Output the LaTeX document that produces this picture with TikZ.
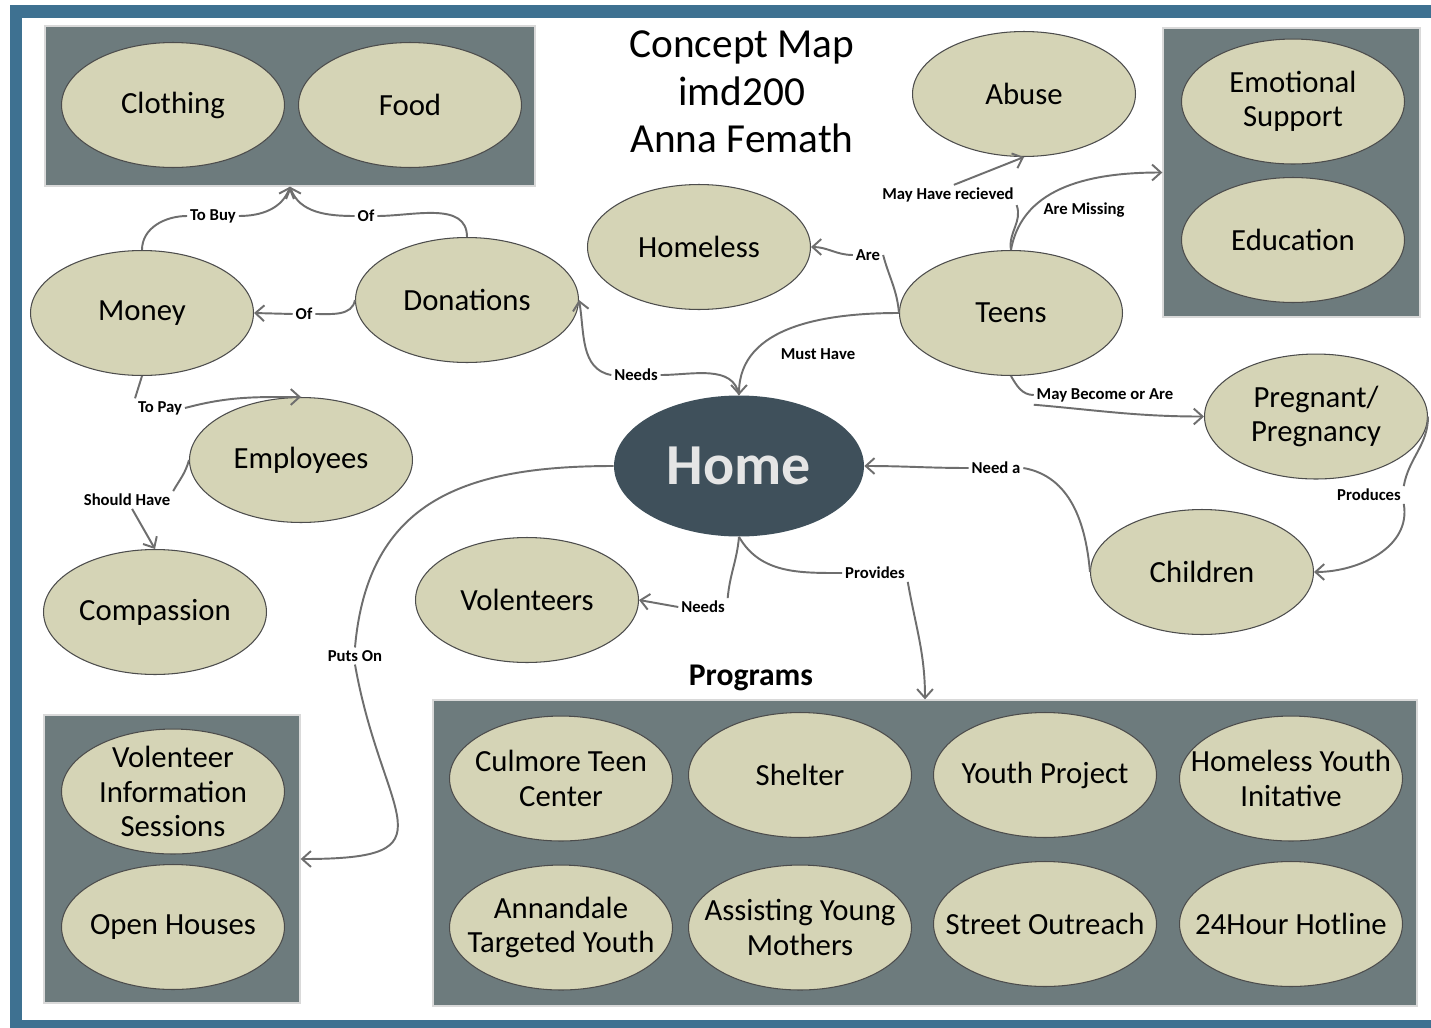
\documentclass[tikz,border=0pt]{standalone}
\usepackage{fontspec}
\setmainfont{Carlito}
\usepackage{tikz}
\usetikzlibrary{shapes.geometric,arrows.meta}

\definecolor{framec}{HTML}{3E7191}
\definecolor{boxc}{HTML}{6D7B7D}
\definecolor{bubc}{HTML}{D5D4B6}
\definecolor{homec}{HTML}{3F505B}
\definecolor{linkc}{HTML}{6E6E6E}

\tikzset{
  bub/.style={ellipse, draw=black!70, line width=0.6pt, fill=bubc,
    minimum width=4.46cm, minimum height=2.5cm, inner sep=-3em,
    align=center, font=\fontsize{17.5}{19.5}\selectfont},
  bubtwo/.style={bub, yshift=-2pt},
  grp/.style={rectangle, draw=black!15, line width=0.8pt, fill=boxc, inner sep=0pt},
  lnk/.style={font=\fontsize{9.5}{11}\selectfont\bfseries, inner sep=1.5pt},
  con/.style={draw=linkc, line width=1.1pt},
  arr/.style={con, -{Straight Barb[length=5pt,width=9pt]}}
}

\begin{document}
\begin{tikzpicture}[x=0.02cm, y=-0.02cm]
    \useasboundingbox (0,0) rectangle (1431,1028);
    \fill[framec] (10,5) rectangle (1431,1028);
    \fill[white] (22,18) rectangle (1431,1020);

    \node[grp, minimum width=9.8cm,  minimum height=3.2cm]  (topbox)   at ( 290, 106) {};
    \node[grp, minimum width=5.14cm, minimum height=5.78cm] (rightbox) at (1291.5, 172.5) {};
    \node[grp, minimum width=5.12cm, minimum height=5.76cm] (leftbox)  at ( 172, 859) {};
    \node[grp, minimum width=19.68cm, minimum height=6.12cm] (progbox) at ( 925, 853) {};

    \node[align=center, font=\fontsize{23.5}{27}\selectfont] (title) at (742, 92) {Concept Map\\imd200\\Anna Femath};
    \node[font=\fontsize{18}{20}\selectfont\bfseries] (progtitle) at (751, 678) {Programs};

    \node[bub]    (clothing)   at ( 173, 105) {Clothing};
    \node[bub]    (food)       at ( 410, 105) {Food};
    \node[bub]    (abuse)      at (1024,  94) {Abuse};
    \node[bubtwo] (emotional)  at (1293,  98) {Emotional\\Support};
    \node[bub]    (education)  at (1293, 240) {Education};
    \node[bub]    (homeless)   at ( 699, 247) {Homeless};
    \node[bub]    (money)      at ( 142, 313) {Money};
    \node[bub]    (donations)  at ( 467, 300) {Donations};
    \node[bub]    (teens)      at (1011, 313) {Teens};
    \node[bubtwo] (pregnant)   at (1316, 413) {Pregnant/\\Pregnancy};
    \node[bub]    (employees)  at ( 301, 460) {Employees};
    \node[bub]    (compassion) at ( 155, 612) {Compassion};
    \node[bub]    (volenteers) at ( 527, 600) {Volenteers};
    \node[bub]    (children)   at (1202, 572) {Children};
    \node[bubtwo] (vis)        at ( 173, 788) {Volenteer\\Information\\Sessions};
    \node[bub]    (openhouses) at ( 173, 927) {Open Houses};
    \node[bubtwo] (culmore)    at ( 561, 775) {Culmore Teen\\Center};
    \node[bub]    (shelter)    at ( 800, 775) {Shelter};
    \node[bub]    (youth)      at (1045, 775) {Youth Project};
    \node[bubtwo] (hyi)        at (1291, 775) {Homeless Youth\\Initative};
    \node[bubtwo] (annandale)  at ( 561, 924) {Annandale\\Targeted Youth};
    \node[bubtwo] (assisting)  at ( 800, 924) {Assisting Young\\Mothers};
    \node[bub]    (street)     at (1045, 924) {Street Outreach};
    \node[bub]    (hotline)    at (1291, 924) {24Hour Hotline};

    \node[ellipse, fill=homec, minimum width=5cm, minimum height=2.82cm, inner sep=0pt,
      text=white!90!black, font=\fontsize{33}{36}\selectfont\bfseries] (home) at (739, 466) {Home};

    \node[lnk] (tobuy)      at ( 213, 216) {To Buy};
    \node[lnk] (of1)        at ( 366, 216) {Of};
    \node[lnk] (of2)        at ( 304, 314) {Of};
    \node[lnk] (topay)      at ( 160, 408) {To Pay};
    \node[lnk] (shouldhave) at ( 127, 500) {Should Have};
    \node[lnk] (needs1)     at ( 636, 375) {Needs};
    \node[lnk] (musthave)   at ( 818, 354) {Must Have};
    \node[lnk] (are)        at ( 868, 255) {Are};
    \node[lnk] (mayhave)    at ( 948, 195) {May Have recieved};
    \node[lnk] (aremissing) at (1084, 210) {Are Missing};
    \node[lnk] (maybecome)  at (1105, 395) {May Become or Are};
    \node[lnk] (produces)   at (1369, 495) {Produces};
    \node[lnk] (needa)      at ( 996, 468) {Need a};
    \node[lnk] (needs2)     at ( 703, 607) {Needs};
    \node[lnk] (provides)   at ( 875, 573) {Provides};
    \node[lnk] (putson)     at ( 355, 656) {Puts On};

    \draw[con] (money.north) to[out=90,in=180] (tobuy.west);
    \draw[arr] (tobuy.east) to[out=0,in=-110] (topbox.south);
    \draw[con] (donations.north) to[out=90,in=0] (of1.east);
    \draw[arr] (of1.west) to[out=180,in=-70] (topbox.south);
    \draw[con] (donations.west) to[out=-100,in=0] (of2.east);
    \draw[arr] (of2.west) -- (money.east);
    \draw[con] (money.south) -- (topay.north west);
    \draw[arr] (topay.east) to[out=15,in=180] (employees.north);
    \draw[con] (employees.west) to[out=-105,in=60] (shouldhave.north east);
    \draw[arr] (shouldhave) -- (compassion.north);
    \draw[con] (home.north) to[out=100,in=0] (needs1.east);
    \draw[arr] (needs1.west) to[out=170,in=-80] (donations.east);
    \draw[arr] (teens.west) to[out=180,in=90] (home.north);
    \draw[con] (teens.west) to[out=95,in=-75] (are.east);
    \draw[arr] (are.west) to[out=180,in=0] (homeless.east);
    \draw[con] (teens.north) to[out=100,in=-70] (mayhave.south east);
    \draw[arr] (mayhave.60) -- (abuse.south);
    \draw[arr] (teens.north) to[out=80,in=180] (rightbox.west);
    \draw[con] (teens.south) to[out=-60,in=180] (maybecome.west);
    \draw[arr] (maybecome.south west) to[out=-5,in=180] (pregnant.west);
    \draw[con] (pregnant.east) to[out=-90,in=80] (produces.north east);
    \draw[arr] (produces.south east) to[out=-80,in=0] (children.east);
    \draw[con] (children.west) to[out=95,in=-10] (needa.east);
    \draw[arr] (needa.west) to[out=180,in=0] (home.east);
    \draw[con] (home.south) to[out=-95,in=85] (needs2.north east);
    \draw[arr] (needs2.west) -- (volenteers.east);
    \draw[con] (home.south) to[out=-60,in=180] (provides.west);
    \draw[arr] (provides.south east) to[out=-80,in=90] (progbox.north);
    \draw[con] (home.west) to[out=180,in=85,looseness=1.2] (putson.north);
    \draw[arr] (putson.south) to[out=-80,in=0,looseness=2] (leftbox.east);
\end{tikzpicture}
\end{document}
